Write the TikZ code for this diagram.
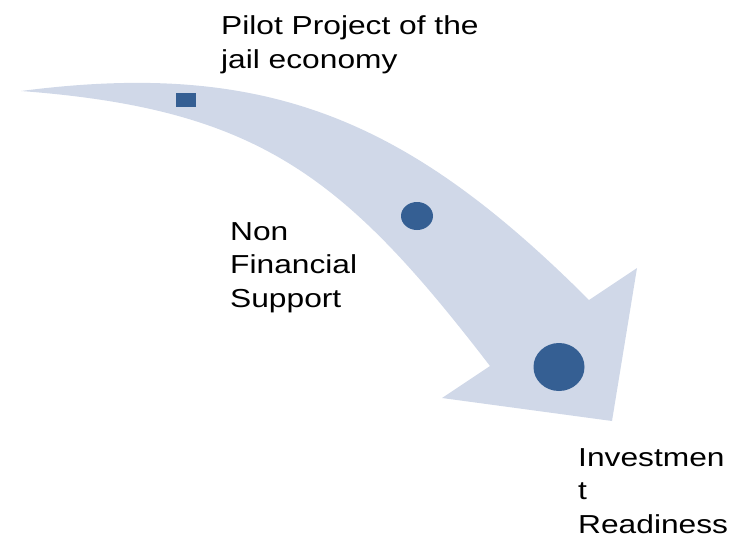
\documentclass[tikz,border=0pt]{standalone}
\usepackage{fontspec}
\newfontfamily\labfont{Liberation Sans}[FakeStretch=1.22]
\begin{document}
\begin{tikzpicture}[x=1pt,y=-1pt,
  arrowfill/.style={fill=arrowblue},
  marker/.style={fill=markblue},
  lab/.style={anchor=base west,inner sep=0pt,align=left,font=\labfont\fontsize{26}{33.5}\selectfont}]
\definecolor{arrowblue}{HTML}{D0D8E8}
\definecolor{markblue}{HTML}{355F93}
\useasboundingbox (0,0) rectangle (740,539);
\fill[arrowfill] (21,91) .. controls (268,59) and (409,120) .. (589,300)
  -- (637,268) -- (612,421) -- (442,398) -- (490,366)
  .. controls (344,176) and (259,109) .. (21,91) -- cycle;
\fill[marker] (176,93) rectangle (196,107);
\fill[marker] (417,216) ellipse [x radius=16,y radius=14];
\fill[marker] (559,367) ellipse [x radius=25.5,y radius=24];
\node[lab] (pilot) at (221,68.3) {Pilot Project of the\\jail economy};
\node[lab] (nonfin) at (230,307) {Non\\Financial\\Support};
\node[lab] (invest) at (578,533) {Investmen\\t\\Readiness};
\end{tikzpicture}
\end{document}
